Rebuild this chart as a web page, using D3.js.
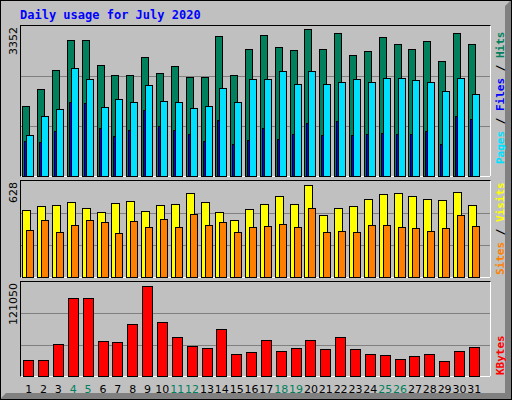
<!DOCTYPE html><html><head><meta charset="utf-8">
<script src="https://cdn.jsdelivr.net/npm/d3@7"></script>
<style>body{margin:0;background:#fff}</style></head><body><svg width="512" height="400"></svg>
<script>
const days=d3.range(1,32);
const weekend=[4,5,11,12,18,19,25,26];
const hits=[1572,1952,2376,3047,3047,2488,2265,2265,2667,2309,2466,2220,2220,3136,2265,2846,3158,2890,2823,3292,2846,3203,2711,2801,3114,2957,2846,3024,2577,3203,2957];
const files=[924,1348,1505,2421,2175,1549,1728,1661,2041,1683,1661,1527,1572,1974,1661,2175,2175,2354,2063,2354,2063,2108,2175,2108,2198,2198,2153,2108,1907,2198,1840];
const pages=[790,767,1013,1661,1639,1080,901,1035,1482,1125,1035,946,790,1259,723,812,1080,834,946,1192,924,1237,924,946,968,946,946,1013,723,1348,1281];
const visits=[437,463,470,489,450,424,483,496,431,470,476,548,489,424,372,444,476,528,476,600,405,450,463,509,541,548,528,509,502,554,470];
const sites=[307,372,295,340,372,359,288,366,327,379,327,411,340,359,295,327,333,346,327,450,295,301,295,340,340,327,320,301,320,405,333];
const kbytes=[20811,20811,41200,101080,101080,45020,43745,66680,116370,69230,50115,38650,36100,60310,28455,31005,46290,32280,36100,46290,34825,50115,34825,28455,27180,22085,25905,28455,19535,32280,37375];
const maxLabels=["3352","628","121050"];
const svg=d3.select("svg");
const F="'DejaVu Sans Mono',monospace";
svg.append("rect").attr("x",0).attr("y",0).attr("width",512).attr("height",400).attr("fill","#c0c0c0");
svg.append("path").attr("d","M505,6 L511,0 L511,399 L0,399 L6,393 L505,393 Z").attr("fill","#808080");
svg.append("rect").attr("x",0.5).attr("y",0.5).attr("width",511).attr("height",399).attr("fill","none").attr("stroke","#000");
svg.append("text").attr("x",20).attr("y",19).attr("font-family",F).attr("font-weight","bold").attr("font-size",12).attr("fill","#0000ff").text("Daily usage for July 2020");
const x=d3.scaleBand().domain(days).range([20,485]).paddingInner(0).paddingOuter(0.15);
function panel(top,bot,max,label){
  svg.append("rect").attr("x",20.5).attr("y",top+0.5).attr("width",470).attr("height",bot-top).attr("fill","#c0c0c0").attr("stroke","#000");
  svg.append("path").attr("d",`M490.5,${top+0.5}V${bot+0.5}H20.5`).attr("stroke","#fff").attr("fill","none");
  const y=d3.scaleLinear().domain([0,max]).range([bot,top+1]);
  [1/3,2/3].forEach(f=>svg.append("line").attr("x1",21).attr("x2",490).attr("y1",Math.round(y(max*f))+0.5).attr("y2",Math.round(y(max*f))+0.5).attr("stroke","#808080"));
  svg.append("text").attr("transform",`translate(17,${top+2}) rotate(-90)`).attr("text-anchor","end").attr("font-family","'DejaVu Sans',sans-serif").attr("font-size",11).text(label);
  return y;
}
function bars(y,data,dx,w,color,bot){
  svg.append("g").selectAll("rect").data(data).join("rect")
   .attr("x",(d,i)=>Math.round(x(days[i]))+dx+0.5).attr("y",d=>Math.round(y(d))+0.5)
   .attr("width",w).attr("height",d=>bot-Math.round(y(d))).attr("fill",color).attr("stroke","#000");
}
const y1=panel(25,176,3352,maxLabels[0]);
bars(y1,hits,0,7,"#00805c",176);bars(y1,files,4,7,"#00e0ff",176);bars(y1,pages,2,2,"#0000ff",176);
const y2=panel(180,277,628,maxLabels[1]);
bars(y2,visits,0,8,"#ffff00",277);bars(y2,sites,4,7,"#ff8000",277);
const y3=panel(281,376,121050,maxLabels[2]);
bars(y3,kbytes,1,10,"#ff0000",376);
svg.append("g").selectAll("text").data(days).join("text").attr("x",d=>x(d)+x.bandwidth()/2-1).attr("y",393).attr("text-anchor","middle")
 .attr("font-family","'DejaVu Sans',sans-serif").attr("font-size",11).attr("fill",d=>weekend.includes(d)?"#00805c":"#000").text(d=>d);
function side(yb,parts){
  const t=svg.append("text").attr("transform",`translate(504,${yb}) rotate(-90)`).attr("font-family",F).attr("font-weight","bold").attr("font-size",11);
  parts.forEach(p=>t.append("tspan").attr("fill",p[1]).text(p[0]));
}
side(164,[["Pages","#00e0ff"],[" / ","#000"],["Files","#0000ff"],[" / ","#000"],["Hits","#00805c"]]);
side(275,[["Sites","#ff8000"],[" / ","#000"],["Visits","#ffff00"]]);
side(375,[["KBytes","#ff0000"]]);
</script></body></html>
